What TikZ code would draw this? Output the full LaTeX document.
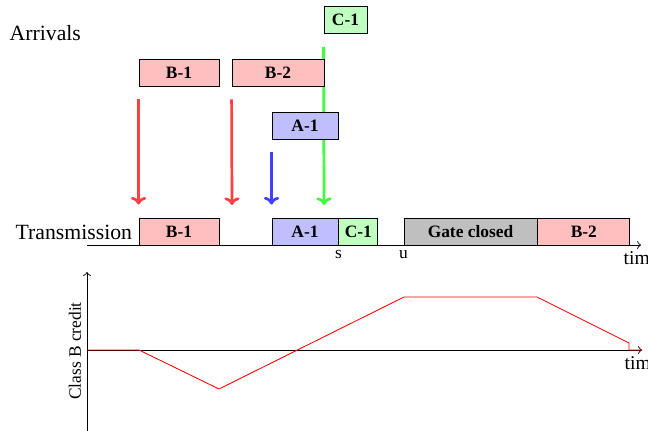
\documentclass[tikz,border=0pt]{standalone}
\usepackage{fontspec}
\setmainfont{Liberation Serif}
\usetikzlibrary{arrows,arrows.meta,positioning}
\tikzset{frame/.style={draw,
                       rectangle,
                       inner sep=0pt,
                       minimum height=12.4pt,
                       font=\footnotesize\bfseries},
         classA/.style={frame, fill=blue!25},
         classB/.style={frame, fill=red!25},
         classC/.style={frame, fill=green!25},
         closed/.style={frame, fill=gray!50},
         arrival/.style={-{To[length=3.5pt,width=7pt]}, line width=1.25pt},
         mark label/.style={below, inner sep=2pt, font=\footnotesize}}

\begin{document}
\begin{tikzpicture}[x=0.46pt,y=-0.46pt,>=to]
    \useasboundingbox (0,0) rectangle (648,431);
    % Row names
    \node [anchor=west] (arrivals) at (2,33) {Arrivals};
    \node [anchor=west] (transmission) at (8,232) {Transmission};
    % Frames as they arrive
    \node [classC, minimum width=19.8pt] (arrC1) at (345.5,20) {C-1};
    \coordinate (endC1) at (324,205);
    \draw [arrival, green!75] ([yshift=-6pt]arrC1.south west) -- (endC1);
    \node [classB, minimum width=36.8pt] (arrB1) at (179,72.5) {B-1};
    \node [classB, minimum width=42.3pt] (arrB2) at (278,72.5) {B-2};
    \node [classA, minimum width=30.4pt] (arrA1) at (305,125.5) {A-1};
    % Frames as they are sent
    \node [classB, minimum width=36.8pt] (txB1) at (179,231.5) {B-1};
    \node [classA, minimum width=30.4pt] (txA1) at (305,231.5) {A-1};
    \node [classC, minimum width=17.9pt, right=0pt of txA1] (txC1) {C-1};
    \node [closed, minimum width=61.2pt] (gate) at (470.5,231.5) {Gate closed};
    \node [classB, minimum width=42.3pt, right=0pt of gate] (txB2) {B-2};
    % Arrows from arrival to sending
    \coordinate (endB2) at (232,205);
    \draw [arrival, red!75] ([yshift=-6pt]arrB1.south west) -- ([yshift=6pt]txB1.north west);
    \draw [arrival, red!75] ([yshift=-6pt]arrB2.south west) -- (endB2);
    \draw [arrival, blue!75] ([yshift=-6pt]arrA1.south west) -- ([yshift=6pt]txA1.north west);
    % Time line
    \coordinate (t0) at (87,245);
    \coordinate (t1) at (641,245);
    \draw [->] (t0) -- (t1) node [mark label, inner sep=3pt, font=\small] (time) {time};
    \node [mark label] (s) at (txC1.south west) {s};
    \node [mark label] (u) at (gate.south west) {u};
    % Credit of class B
    \coordinate (origin) at (87,350);
    \coordinate (ybot) at (87,431);
    \coordinate (ytop) at (87,272);
    \coordinate (xend) at (642,350);
    \draw [->] (ybot) -- (ytop);
    \draw [->] (origin) -- (xend) node [mark label, inner sep=3pt, font=\small] (time2) {time};
    \node [rotate=90, font=\footnotesize] (credit) at (75,351) {Class B credit};
    \draw [red] (origin) -- (139,350) -- (219,389) -- (404,297) -- (537,297)
                -- (629,343) -- (629,350) -- (xend);
\end{tikzpicture}
\end{document}
